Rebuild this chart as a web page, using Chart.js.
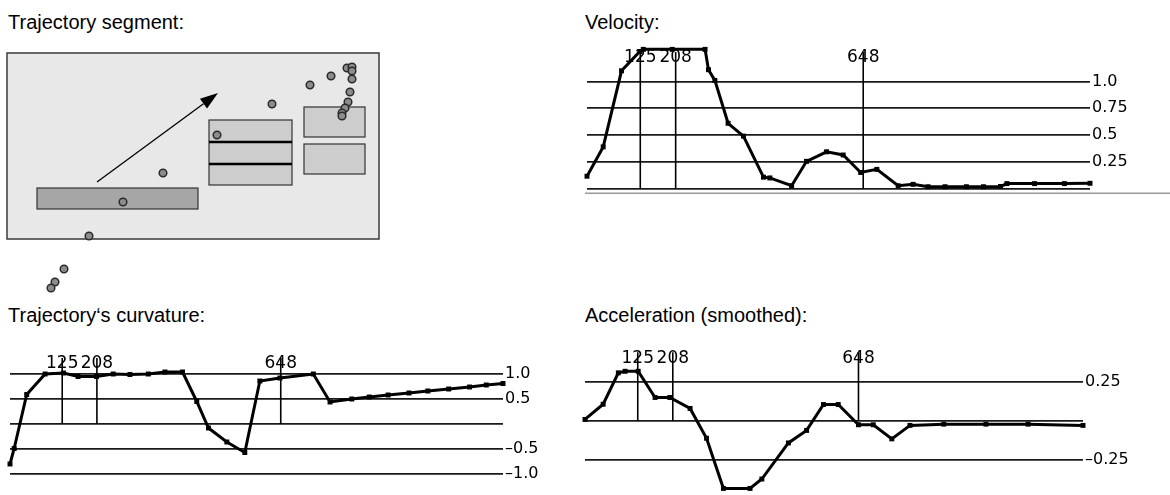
<!DOCTYPE html>
<html>
<head>
<meta charset="utf-8">
<script src="https://cdn.jsdelivr.net/npm/chart.js@4.4.1/dist/chart.umd.min.js"></script>
<style>
  html, body { margin: 0; padding: 0; background: #fff; }
  body { width: 1170px; height: 495px; position: relative; overflow: hidden; font-family: 'Liberation Sans', Arial, sans-serif; }
  .title { position: absolute; font-size: 20px; line-height: 20px; color: #000; white-space: nowrap; }
  canvas { position: absolute; display: block; }
</style>
</head>
<body>
<div class="title" style="left:8px;top:12px">Trajectory segment:</div>
<div class="title" style="left:585px;top:12px">Velocity:</div>
<div class="title" style="left:8px;top:305px">Trajectory‘s curvature:</div>
<div class="title" style="left:585px;top:305px">Acceleration (smoothed):</div>

<canvas id="trajChart" width="390" height="255" style="left:0px;top:45px"></canvas>
<canvas id="velChart" width="589" height="158" style="left:581px;top:40px"></canvas>
<canvas id="curvChart" width="544" height="143" style="left:4px;top:350px"></canvas>
<canvas id="accChart" width="559" height="146" style="left:579px;top:348px"></canvas>

<script>
// trajectory segment, box units (y grows downwards)
const trajX = [210, 156, 116, 82, 57, 48, 44, 265, 303, 324, 340, 345, 345, 345, 343, 341, 338, 335, 335];
const trajY = [82, 120, 149, 183, 216, 229, 235, 51, 32, 23, 15, 14, 18, 26, 39, 49, 55, 60, 63];
const areaBounds = [0, 0, 372, 186];
const zoneDark = [30, 135, 191, 156];
const zonesLight = [[202, 67, 285, 132], [297, 54, 358, 84], [297, 91, 358, 121]];
const zoneDividers = [89, 111];
const arrowFrom = [90, 129];
const arrowTo = [211, 40];

// time axis shared by the three curves
const X_MAX = 1180;
const markers = [125, 208, 648];
const markerLabels = ['125', '208', '648'];

const velX = [0, 38, 81, 124, 132, 200, 277, 285, 300, 331, 367, 414, 429, 480, 515, 562, 601, 642, 680, 730, 765, 800, 840, 890, 930, 970, 985, 1050, 1120, 1180];
const velY = [0.116, 0.39, 1.10, 1.28, 1.30, 1.30, 1.30, 1.11, 1.01, 0.61, 0.49, 0.107, 0.10, 0.027, 0.255, 0.344, 0.314, 0.151, 0.18, 0.027, 0.04, 0.018, 0.018, 0.018, 0.018, 0.02, 0.047, 0.047, 0.047, 0.05];
const velTicks = [0, 0.25, 0.5, 0.75, 1.0];
const velTickLabels = ['', '0.25', '0.5', '0.75', '1.0'];

const curvX = [0, 10, 40, 84, 128, 163, 207, 247, 287, 331, 371, 413, 447, 475, 519, 562, 598, 646, 726, 766, 818, 860, 905, 955, 1000, 1050, 1100, 1140, 1180];
const curvY = [-0.80, -0.49, 0.59, 1.0, 1.02, 0.95, 0.95, 1.0, 0.99, 1.0, 1.04, 1.04, 0.45, -0.08, -0.36, -0.57, 0.86, 0.92, 1.0, 0.44, 0.50, 0.54, 0.58, 0.62, 0.66, 0.70, 0.74, 0.78, 0.81];
const curvTicks = [-1.0, -0.5, 0, 0.5, 1.0];
const curvTickLabels = ['–1.0', '–0.5', '', '0.5', '1.0'];

const accX = [0, 43, 79, 95, 126, 166, 201, 249, 288, 328, 391, 419, 482, 525, 565, 600, 648, 683, 727, 770, 850, 950, 1050, 1180];
const accY = [0.01, 0.107, 0.307, 0.317, 0.317, 0.15, 0.15, 0.08, -0.11, -0.43, -0.43, -0.37, -0.14, -0.06, 0.105, 0.105, -0.024, -0.024, -0.114, -0.028, -0.02, -0.02, -0.02, -0.028];
const accTicks = [-0.25, 0, 0.25];
const accTickLabels = ['–0.25', '', '0.25'];

const zonesPlugin = {
  id: 'zones',
  beforeDatasetsDraw(chart) {
    const { ctx, scales: { x, y } } = chart;
    const rect = (b, fill, stroke, lw) => {
      const x0 = x.getPixelForValue(b[0]), y0 = y.getPixelForValue(b[1]);
      const x1 = x.getPixelForValue(b[2]), y1 = y.getPixelForValue(b[3]);
      ctx.fillStyle = fill;
      ctx.fillRect(x0, y0, x1 - x0, y1 - y0);
      ctx.strokeStyle = stroke;
      ctx.lineWidth = lw;
      ctx.strokeRect(x0, y0, x1 - x0, y1 - y0);
    };
    ctx.save();
    rect(areaBounds, '#e8e8e8', '#3a3a3a', 1.5);
    rect(zoneDark, '#a6a6a6', '#333', 1.2);
    zonesLight.forEach(z => rect(z, '#cdcdcd', '#333', 1.2));

    ctx.strokeStyle = '#000';
    ctx.lineWidth = 2.5;
    const m = zonesLight[0];
    zoneDividers.forEach(v => {
      const py = y.getPixelForValue(v);
      ctx.beginPath();
      ctx.moveTo(x.getPixelForValue(m[0]), py);
      ctx.lineTo(x.getPixelForValue(m[2]), py);
      ctx.stroke();
    });

    // arrow
    const ax0 = x.getPixelForValue(arrowFrom[0]), ay0 = y.getPixelForValue(arrowFrom[1]);
    const ax1 = x.getPixelForValue(arrowTo[0]), ay1 = y.getPixelForValue(arrowTo[1]);
    const ang = Math.atan2(ay1 - ay0, ax1 - ax0);
    const head = 18, half = 6;
    const bx = ax1 - head * Math.cos(ang), by = ay1 - head * Math.sin(ang);
    ctx.lineWidth = 1.3;
    ctx.beginPath();
    ctx.moveTo(ax0, ay0);
    ctx.lineTo(bx, by);
    ctx.stroke();
    ctx.fillStyle = '#000';
    ctx.beginPath();
    ctx.moveTo(ax1, ay1);
    ctx.lineTo(bx + half * Math.sin(ang), by - half * Math.cos(ang));
    ctx.lineTo(bx - half * Math.sin(ang), by + half * Math.cos(ang));
    ctx.closePath();
    ctx.fill();
    ctx.restore();
  }
};

const markerPlugin = {
  id: 'markers',
  beforeDatasetsDraw(chart, args, opts) {
    const { ctx, chartArea, scales: { x, y } } = chart;
    const zero = y.getPixelForValue(0);
    const ly = y.getPixelForValue(opts.labelAt);
    ctx.save();
    if (opts.baseline) {
      ctx.strokeStyle = '#9a9a9a';
      ctx.lineWidth = 1.5;
      ctx.beginPath();
      ctx.moveTo(chartArea.left - 2, zero + 4.5);
      ctx.lineTo(chart.width, zero + 4.5);
      ctx.stroke();
    }
    ctx.strokeStyle = '#000';
    ctx.fillStyle = '#000';
    ctx.lineWidth = 1.6;
    ctx.font = '17px "DejaVu Sans"';
    ctx.textAlign = 'center';
    ctx.textBaseline = 'middle';
    markers.forEach((mk, i) => {
      const px = x.getPixelForValue(mk);
      ctx.beginPath();
      ctx.moveTo(px, ly - 6);
      ctx.lineTo(px, zero);
      ctx.stroke();
      ctx.fillText(markerLabels[i], px, ly);
    });
    ctx.restore();
  }
};

new Chart(document.getElementById('trajChart'), {
  type: 'scatter',
  data: {
    datasets: [{
      data: trajX.map((x, i) => ({ x: x, y: trajY[i] })),
      pointRadius: 3.8,
      pointBackgroundColor: '#8c8c8c',
      pointBorderColor: '#2a2a2a',
      pointBorderWidth: 1.5,
      clip: false
    }]
  },
  options: {
    responsive: false,
    animation: false,
    events: [],
    layout: { padding: { left: 7, top: 8, right: 11, bottom: 7 } },
    plugins: { legend: { display: false }, tooltip: { enabled: false } },
    scales: {
      x: { type: 'linear', min: 0, max: 372, display: false },
      y: { type: 'linear', min: 0, max: 240, reverse: true, display: false }
    }
  },
  plugins: [zonesPlugin]
});

function curveChart(id, xs, ys, yMin, yMax, ticks, tickLabels, axisWidth, labelAt, baseline) {
  return new Chart(document.getElementById(id), {
    type: 'line',
    data: {
      datasets: [{
        data: xs.map((x, i) => ({ x: x, y: ys[i] })),
        borderColor: '#000',
        borderWidth: 3,
        pointStyle: 'rect',
        pointRadius: 3.5,
        pointBackgroundColor: '#000',
        pointBorderWidth: 0,
        tension: 0,
        clip: false
      }]
    },
    options: {
      responsive: false,
      animation: false,
      events: [],
      layout: { padding: { left: 6, right: 0, top: 0, bottom: 0 } },
      plugins: {
        legend: { display: false },
        tooltip: { enabled: false },
        markers: { labelAt: labelAt, baseline: baseline }
      },
      scales: {
        x: { type: 'linear', min: 0, max: X_MAX, display: false },
        y: {
          type: 'linear',
          position: 'right',
          min: yMin,
          max: yMax,
          afterBuildTicks: s => { s.ticks = ticks.map(v => ({ value: v })); },
          afterFit: s => { s.width = axisWidth; s.paddingTop = 0; s.paddingBottom = 0; },
          grid: { color: '#1a1a1a', lineWidth: 1.8, drawTicks: false },
          border: { display: false },
          ticks: {
            padding: 2,
            color: '#000',
            font: { family: 'DejaVu Sans', size: 16 },
            callback: (v, i) => tickLabels[i]
          }
        }
      }
    },
    plugins: [markerPlugin]
  });
}

curveChart('velChart', velX, velY, -0.05, 1.35, velTicks, velTickLabels, 80, 1.22, true);
curveChart('curvChart', curvX, curvY, -1.3, 1.4, curvTicks, curvTickLabels, 45, 1.2, false);
curveChart('accChart', accX, accY, -0.44, 0.44, accTicks, accTickLabels, 55, 0.40, false);
</script>
</body>
</html>
